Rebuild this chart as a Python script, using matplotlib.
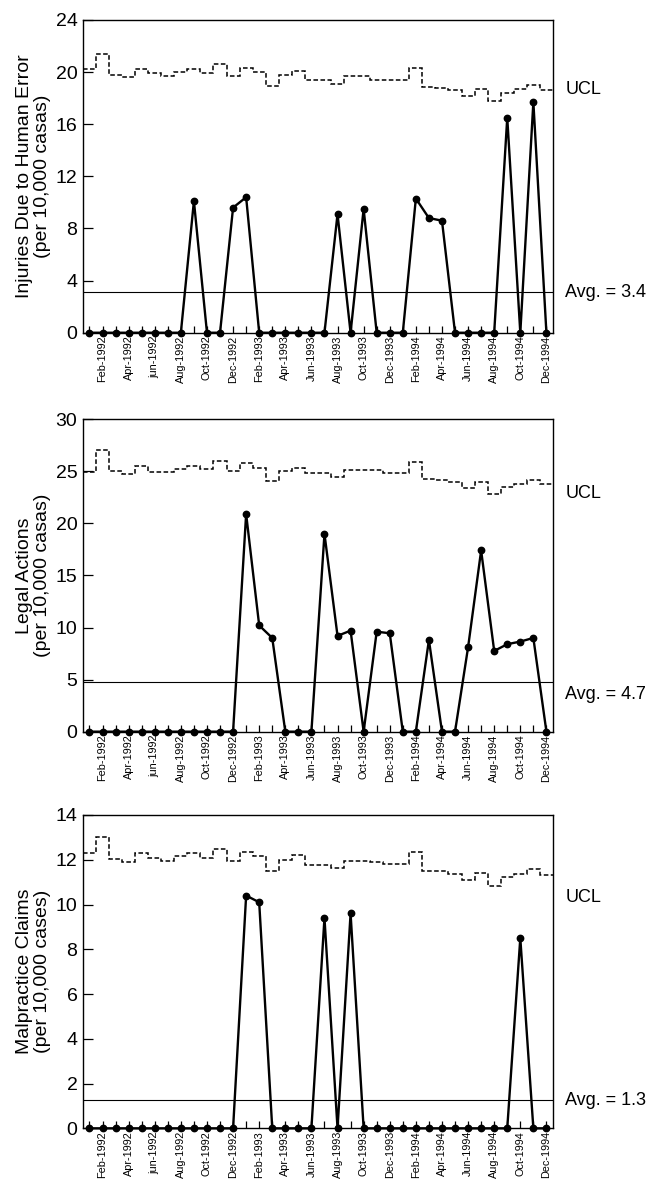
import matplotlib
matplotlib.use("Agg")
import matplotlib.pyplot as plt
import numpy as np

plt.rcParams["font.family"] = ["Liberation Sans", "DejaVu Sans"]

# monthly index: 0 = Jan-1992 ... 35 = Dec-1994
months = np.arange(36)
tick_labels = [
    "Feb-1992", "Apr-1992", "jun-1992", "Aug-1992", "Oct-1992", "Dec-1992",
    "Feb-1993", "Apr-1993", "Jun-1993", "Aug-1993", "Oct-1993", "Dec-1993",
    "Feb-1994", "Apr-1994", "Jun-1994", "Aug-1994", "Oct-1994", "Dec-1994",
]

injuries = [0, 0, 0, 0, 0, 0, 0, 0, 10.1, 0, 0, 9.6,
            10.4, 0, 0, 0, 0, 0, 0, 9.1, 0, 9.5, 0, 0,
            0, 10.3, 8.8, 8.6, 0, 0, 0, 0, 16.5, 0, 17.7, 0]
injuries_ucl = [20.2, 21.4, 19.8, 19.6, 20.2, 19.9, 19.7, 20.0, 20.2, 19.9, 20.6, 19.7,
                20.3, 20.0, 18.9, 19.8, 20.1, 19.4, 19.4, 19.1, 19.7, 19.7, 19.4, 19.4,
                19.4, 20.3, 18.85, 18.8, 18.6, 18.2, 18.7, 17.8, 18.4, 18.7, 19.0, 18.6]
injuries_avg = 3.1

legal = [0, 0, 0, 0, 0, 0, 0, 0, 0, 0, 0, 0,
         20.9, 10.2, 9.0, 0, 0, 0, 19.0, 9.2, 9.7, 0, 9.6, 9.45,
         0, 0, 8.8, 0, 0, 8.1, 17.4, 7.75, 8.4, 8.65, 9.0, 0]
legal_ucl = [24.9, 27.05, 25.0, 24.75, 25.5, 24.9, 24.9, 25.2, 25.5, 25.25, 26.0, 25.0,
             25.8, 25.35, 24.1, 25.0, 25.3, 24.8, 24.8, 24.45, 25.1, 25.1, 25.1, 24.8,
             24.8, 25.85, 24.25, 24.2, 24.0, 23.4, 24.0, 22.85, 23.5, 23.8, 24.2, 23.8]
legal_avg = 4.8

malpractice = [0, 0, 0, 0, 0, 0, 0, 0, 0, 0, 0, 0,
               10.4, 10.1, 0, 0, 0, 0, 9.4, 0, 9.6, 0, 0, 0,
               0, 0, 0, 0, 0, 0, 0, 0, 0, 8.5, 0, 0]
malpractice_ucl = [12.3, 13.0, 12.05, 11.92, 12.32, 12.1, 11.95, 12.15, 12.3, 12.1, 12.5, 11.95,
                   12.35, 12.15, 11.5, 12.0, 12.2, 11.77, 11.77, 11.62, 11.96, 11.96, 11.9, 11.81,
                   11.81, 12.35, 11.5, 11.5, 11.35, 11.1, 11.4, 10.83, 11.25, 11.36, 11.57, 11.3]
malpractice_avg = 1.25

panels = [
    # values, ucl, avg line, avg text, ylabel, yticks, axes rect, ucl text y, avg text y
    (injuries, injuries_ucl, injuries_avg, "Avg. = 3.4",
     "Injuries Due to Human Error\n(per 10,000 casas)", np.arange(0, 25, 4),
     [0.128, 0.7185, 0.7253, 0.2646], 0.778, 0.129),
    (legal, legal_ucl, legal_avg, "Avg. = 4.7",
     "Legal Actions\n(per 10,000 casas)", np.arange(0, 31, 5),
     [0.128, 0.381, 0.7253, 0.2643], 0.763, 0.120),
    (malpractice, malpractice_ucl, malpractice_avg, "Avg. = 1.3",
     "Malpractice Claims\n(per 10,000 cases)", np.arange(0, 15, 2),
     [0.128, 0.0454, 0.7253, 0.2651], 0.737, 0.090),
]

fig = plt.figure(figsize=(6.48, 11.82), dpi=100)
edges = np.arange(37) - 0.5
xlabels = [""] * 36
for k, lab in enumerate(tick_labels):
    xlabels[2 * k + 1] = lab

for values, ucl, avg, avg_text, ylabel, yticks, rect, ucl_y, avg_y in panels:
    ax = fig.add_axes(rect)
    ax.stairs(ucl, edges, baseline=None, color="black",
              linestyle=(0, (3, 1.6)), linewidth=1.1)
    ax.axhline(avg, color="black", linewidth=0.8)
    ax.plot(months, values, "-o", color="black", linewidth=1.7,
            markersize=4.6, clip_on=False, zorder=3)

    ax.set_xlim(-0.5, 35.5)
    ax.set_ylim(yticks[0], yticks[-1])
    ax.set_yticks(yticks)
    ax.set_xticks(months)
    ax.set_xticklabels(xlabels, rotation=90)
    ax.tick_params(axis="x", direction="in", length=5, width=0.9,
                   pad=2, labelsize=7.8)
    ax.tick_params(axis="y", direction="in", length=7, width=0.9,
                   pad=4, labelsize=14)
    for sp in ax.spines.values():
        sp.set_linewidth(1.0)

    ax.set_ylabel(ylabel, fontsize=14, linespacing=1.1, labelpad=3)
    ax.text(1.026, ucl_y, "UCL", transform=ax.transAxes,
            ha="left", va="center", fontsize=13)
    ax.text(1.026, avg_y, avg_text, transform=ax.transAxes,
            ha="left", va="center", fontsize=13)

fig.savefig("out.png", dpi=100)
